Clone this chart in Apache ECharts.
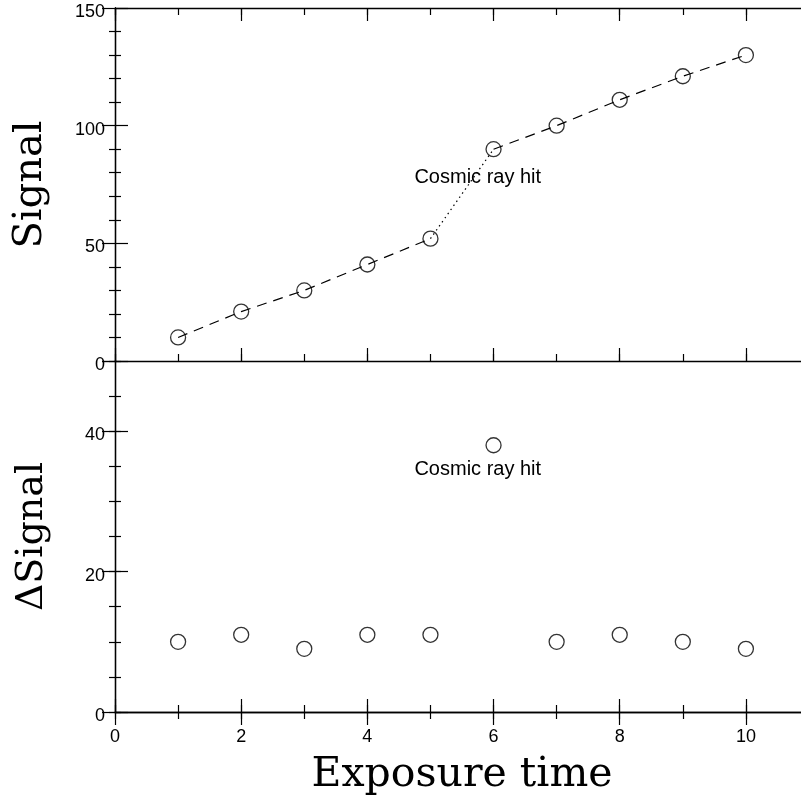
<!DOCTYPE html>
<html>
<head>
<meta charset="utf-8">
<script src="https://cdn.jsdelivr.net/npm/echarts@6/dist/echarts.min.js"></script>
<style>html,body{margin:0;padding:0;background:#fff}#c{width:801px;height:803px}</style>
</head>
<body>
<div id="c"></div>
<script>
var exposure = [1, 2, 3, 4, 5, 6, 7, 8, 9, 10];
var signal = [10, 21, 30, 41, 52, 90, 100, 111, 121, 130];
var deltaSignal = [10, 11, 9, 11, 11, 38, 10, 11, 10, 9];
var xTicks = [0, 2, 4, 6, 8, 10];
var annotationText = 'Cosmic ray hit';

function pairs(xs, ys) { return xs.map(function (x, i) { return [x, ys[i]]; }); }
var sigPts = pairs(exposure, signal);
var dPts = pairs(exposure, deltaSignal);

var LF = 'Liberation Sans, Arial, sans-serif';
var SF = 'DejaVu Serif, serif';
var lineW = 1.3;

function xAx(grid, pos, interval, len, opts) {
  var a = {
    type: 'value', gridIndex: grid, position: pos, min: 0, max: 11, interval: interval,
    axisLine: { show: !!opts.line, lineStyle: { color: '#000', width: lineW } },
    axisTick: { show: true, inside: true, length: len, lineStyle: { color: '#000', width: 1.2 } },
    axisLabel: { show: false },
    splitLine: { show: false }
  };
  if (opts.labels) {
    a.axisLabel = { show: true, color: '#000', fontFamily: LF, fontSize: 18, margin: 16, showMaxLabel: false,
      formatter: function (v) { return xTicks.indexOf(v) >= 0 ? String(v) : ''; } };
  }
  if (opts.name) {
    a.name = opts.name; a.nameLocation = 'middle'; a.nameGap = 43;
    a.nameTextStyle = { fontFamily: SF, fontSize: 41, color: '#000', verticalAlign: 'top' };
  }
  return a;
}
function yAx(grid, pos, max, interval, len, opts) {
  var a = {
    type: 'value', gridIndex: grid, position: pos, min: 0, max: max, interval: interval,
    axisLine: { show: !!opts.line, lineStyle: { color: '#000', width: lineW } },
    axisTick: { show: true, inside: true, length: len, lineStyle: { color: '#000', width: 1.2 } },
    axisLabel: { show: false },
    splitLine: { show: false }
  };
  if (opts.minor) {
    a.minorTick = { show: true, splitNumber: opts.minor, length: 6, lineStyle: { color: '#000', width: 1.2 } };
  }
  if (opts.labels) {
    a.axisLabel = { show: true, color: '#000', fontFamily: LF, fontSize: 18, margin: 10, showMaxLabel: opts.showMax,
      verticalAlign: 'top', lineHeight: 8 };
  }
  if (opts.name) {
    a.name = opts.name; a.nameLocation = 'middle'; a.nameGap = opts.nameGap; a.nameRotate = 90;
    a.nameTextStyle = { fontFamily: SF, fontSize: opts.nameSize, color: '#000' };
  }
  return a;
}

var option = {
  animation: false,
  backgroundColor: '#fff',
  grid: [
    { left: 115, top: 8, width: 694, height: 353, outerBoundsMode: 'none', containLabel: false },
    { left: 115, top: 361, width: 694, height: 351, outerBoundsMode: 'none', containLabel: false }
  ],
  xAxis: [
    xAx(0, 'bottom', 2, 13, { line: true }),
    xAx(0, 'bottom', 1, 7, {}),
    xAx(0, 'top', 2, 13, { line: true }),
    xAx(0, 'top', 1, 7, {}),
    xAx(1, 'bottom', 2, 13, { line: true, labels: true, name: 'Exposure time' }),
    xAx(1, 'bottom', 1, 7, {}),
    xAx(1, 'top', 2, 13, { line: true }),
    xAx(1, 'top', 1, 7, {})
  ],
  yAxis: [
    yAx(0, 'left', 150, 50, 13, { line: true, minor: 5, labels: true, showMax: true, name: 'Signal', nameGap: 64, nameSize: 40 }),
    yAx(0, 'right', 150, 50, 13, { line: true, minor: 5 }),
    yAx(1, 'left', 50, 20, 13, { line: true, labels: true, showMax: false, name: '\u0394Signal', nameGap: 64, nameSize: 38 }),
    yAx(1, 'left', 50, 5, 6, {}),
    yAx(1, 'right', 50, 20, 13, { line: true }),
    yAx(1, 'right', 50, 5, 6, {})
  ],
  series: [
    { type: 'line', xAxisIndex: 0, yAxisIndex: 0, data: sigPts.slice(0, 5), showSymbol: false, symbol: 'none',
      lineStyle: { color: '#000', width: 1.2, type: [10, 7] } },
    { type: 'line', xAxisIndex: 0, yAxisIndex: 0, data: sigPts.slice(4, 6), showSymbol: false, symbol: 'none',
      lineStyle: { color: '#000', width: 1.2, type: [1.5, 3.5] } },
    { type: 'line', xAxisIndex: 0, yAxisIndex: 0, data: sigPts.slice(5), showSymbol: false, symbol: 'none',
      lineStyle: { color: '#000', width: 1.2, type: [10, 7] } },
    { type: 'scatter', xAxisIndex: 0, yAxisIndex: 0, data: sigPts, symbol: 'circle', symbolSize: 15,
      itemStyle: { color: 'rgba(0,0,0,0)', borderColor: '#000', borderWidth: 1.3 },
      markPoint: { symbol: 'circle', symbolSize: 0, silent: true,
        data: [{ coord: [5.75, 78], label: { show: true, formatter: annotationText, color: '#000', fontFamily: LF, fontSize: 20, position: 'inside' } }] } },
    { type: 'scatter', xAxisIndex: 4, yAxisIndex: 2, data: dPts, symbol: 'circle', symbolSize: 15,
      itemStyle: { color: 'rgba(0,0,0,0)', borderColor: '#000', borderWidth: 1.3 },
      markPoint: { symbol: 'circle', symbolSize: 0, silent: true,
        data: [{ coord: [5.75, 34.5], label: { show: true, formatter: annotationText, color: '#000', fontFamily: LF, fontSize: 20, position: 'inside' } }] } }
  ]
};
var chart = echarts.init(document.getElementById('c'), null, { renderer: 'canvas' });
chart.setOption(option);
</script>
</body>
</html>
